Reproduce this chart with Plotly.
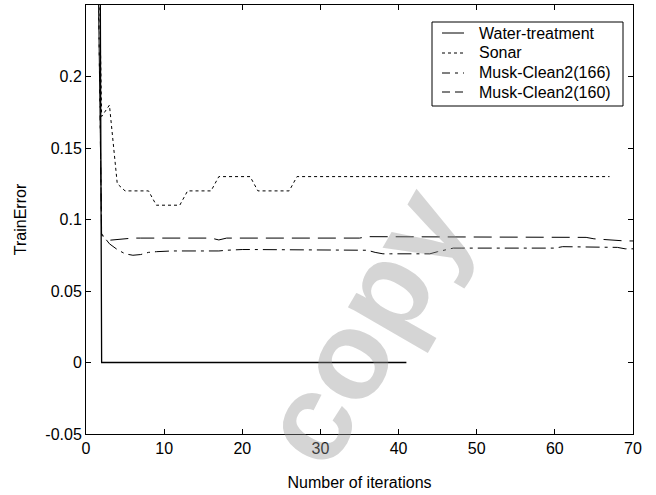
import plotly.graph_objects as go

# ---------------- data ----------------
water_x = list(range(1, 42))
water_y = [1.5, 0, 0, 0, 0, 0, 0, 0, 0, 0,
           0, 0, 0, 0, 0, 0, 0, 0, 0, 0,
           0, 0, 0, 0, 0, 0, 0, 0, 0, 0,
           0, 0, 0, 0, 0, 0, 0, 0, 0, 0, 0]

sonar_x = list(range(1, 68))
sonar_y = [0.5, 0.172, 0.18, 0.125, 0.12, 0.12, 0.12, 0.12, 0.11, 0.11,
           0.11, 0.11, 0.12, 0.12, 0.12, 0.12, 0.13, 0.13, 0.13, 0.13,
           0.13, 0.12, 0.12, 0.12, 0.12, 0.12, 0.13, 0.13, 0.13, 0.13,
           0.13, 0.13, 0.13, 0.13, 0.13, 0.13, 0.13, 0.13, 0.13, 0.13,
           0.13, 0.13, 0.13, 0.13, 0.13, 0.13, 0.13, 0.13, 0.13, 0.13,
           0.13, 0.13, 0.13, 0.13, 0.13, 0.13, 0.13, 0.13, 0.13, 0.13,
           0.13, 0.13, 0.13, 0.13, 0.13, 0.13, 0.13]

musk166_x = list(range(1, 71))
musk166_y = [0.5, 0.09, 0.083, 0.079, 0.076, 0.075, 0.0755, 0.077, 0.0775, 0.078,
             0.078, 0.078, 0.078, 0.078, 0.0775, 0.0775, 0.078, 0.0785, 0.079, 0.079,
             0.079, 0.079, 0.079, 0.079, 0.079, 0.079, 0.079, 0.079, 0.079, 0.079,
             0.079, 0.079, 0.079, 0.079, 0.079, 0.0785, 0.077, 0.076, 0.076, 0.076,
             0.076, 0.076, 0.076, 0.076, 0.0775, 0.079, 0.08, 0.08, 0.08, 0.08,
             0.08, 0.08, 0.08, 0.08, 0.08, 0.08, 0.08, 0.08, 0.08, 0.08,
             0.081, 0.081, 0.081, 0.081, 0.081, 0.081, 0.081, 0.0805, 0.0795, 0.0795]

musk160_x = list(range(1, 71))
musk160_y = [0.5, 0.089, 0.0855, 0.086, 0.087, 0.087, 0.087, 0.087, 0.087, 0.087,
             0.087, 0.087, 0.087, 0.087, 0.087, 0.087, 0.0857, 0.087, 0.087, 0.087,
             0.087, 0.087, 0.087, 0.087, 0.087, 0.087, 0.087, 0.087, 0.087, 0.087,
             0.087, 0.087, 0.087, 0.087, 0.087, 0.088, 0.088, 0.088, 0.088, 0.088,
             0.088, 0.088, 0.088, 0.088, 0.088, 0.088, 0.088, 0.088, 0.088, 0.088,
             0.088, 0.088, 0.088, 0.088, 0.088, 0.088, 0.088, 0.088, 0.088, 0.088,
             0.088, 0.088, 0.088, 0.0875, 0.0865, 0.086, 0.086, 0.085, 0.085, 0.085]

x_ticks = [0, 10, 20, 30, 40, 50, 60, 70]
y_ticks = [-0.05, 0, 0.05, 0.1, 0.15, 0.2]
y_tick_labels = ["-0.05", "0", "0.05", "0.1", "0.15", "0.2"]

series_names = ["Water-treatment", "Sonar", "Musk-Clean2(166)", "Musk-Clean2(160)"]
series_x = [water_x, sonar_x, musk166_x, musk160_x]
series_y = [water_y, sonar_y, musk166_y, musk160_y]

# styles
FONT = "Liberation Sans, Arial, sans-serif"
dashes = ["solid", "3px,3px", "14px,5px,3px,5px", "18px,8px"]
widths = [1.3, 1, 1, 1]
legend_dashes = ["solid", "3px,3px", "8px,5px,3px,5px", "8px,5px"]

fig = go.Figure()

# watermark (drawn as annotation)
fig.add_annotation(x=35.5, y=0.026, xref="x", yref="y", text="<b>copy</b>",
                   showarrow=False, textangle=-60,
                   font=dict(family="Liberation Sans, Arial", size=125,
                             color="rgba(150,150,150,0.4)"))

for name, xs, ys, d, w in zip(series_names, series_x, series_y, dashes, widths):
    fig.add_trace(go.Scatter(x=xs, y=ys, mode="lines", name=name,
                             line=dict(color="black", width=w, dash=d),
                             showlegend=False))

# ---- legend box drawn by hand (paper coordinates) ----
px0, px1, py0, py1 = 86, 633, 5, 434


def fx(p):
    return (p - px0) / (px1 - px0)


def fy(p):
    return (py1 - p) / (py1 - py0)


fig.add_shape(type="rect", xref="paper", yref="paper",
              x0=fx(432), x1=fx(623), y0=fy(106), y1=fy(22),
              line=dict(color="black", width=1), fillcolor="white", layer="above")
row_y = [33, 53, 73, 92]
for name, d, ry in zip(series_names, legend_dashes, row_y):
    fig.add_shape(type="line", xref="paper", yref="paper",
                  x0=fx(442), x1=fx(464), y0=fy(ry), y1=fy(ry),
                  line=dict(color="black", width=1, dash=d), layer="above")
    fig.add_annotation(x=fx(477), y=fy(ry), xref="paper", yref="paper",
                       text=name, showarrow=False, xanchor="left", yanchor="middle",
                       font=dict(family=FONT, size=16, color="black"))

axis_common = dict(showline=True, linecolor="black", linewidth=1, mirror="ticks",
                   ticks="inside", ticklen=5, tickcolor="black", showgrid=False,
                   zeroline=False, tickfont=dict(family=FONT, size=16, color="black"))

fig.update_xaxes(range=[0, 70], tickvals=x_ticks,
                 title=dict(text="Number of iterations",
                            font=dict(family=FONT, size=16, color="black"), standoff=20),
                 **axis_common)
fig.update_yaxes(range=[-0.05, 0.25], tickvals=y_ticks, ticktext=y_tick_labels,
                 title=dict(text="TrainError",
                            font=dict(family=FONT, size=16, color="black"), standoff=14),
                 **axis_common)

fig.update_layout(
    width=656, height=495, autosize=False,
    margin=dict(l=86, r=23, t=5, b=61),
    paper_bgcolor="white", plot_bgcolor="rgba(0,0,0,0)",
    font=dict(family=FONT, color="black"),
    showlegend=False,
)

fig.write_html("out.html", config={"displayModeBar": False},
               post_script="document.body.style.margin='0px';document.body.style.padding='0px';")
